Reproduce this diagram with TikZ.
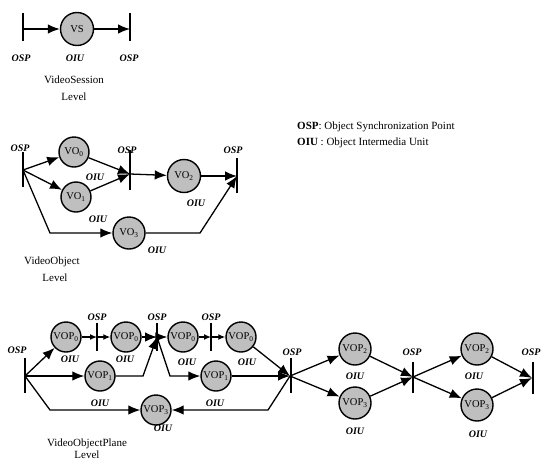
\documentclass[tikz,border=0pt]{standalone}
\usepackage{fontspec}
\setmainfont{Liberation Serif}
\usetikzlibrary{arrows.meta}
\tikzset{
  unit/.style={circle, draw, line width=1.4pt, fill=black!25, minimum size=30pt, inner sep=0pt, font=\fontsize{10.5}{10.5}\selectfont},
  lbl/.style={font=\bfseries\itshape\fontsize{10}{11}\selectfont, inner sep=0pt},
  txt/.style={font=\fontsize{11}{12}\selectfont, inner sep=0pt},
  arr/.style={line width=1.3pt, -{Latex[length=12pt,width=9.5pt]}},
  sarr/.style={line width=1.3pt, -{Latex[length=7pt,width=6pt]}},
  osp/.style={line width=1.1pt}
}
\begin{document}
\begin{tikzpicture}[x=1pt,y=-1pt]
\useasboundingbox (0,0) rectangle (545,461);
\clip (0,0) rectangle (545,461);
\fill[white] (0,0) rectangle (545,461);

% ---------- Level 1 ----------
\coordinate (s1) at (23,29);
\coordinate (s1t) at (23,13); \coordinate (s1b) at (23,41);
\coordinate (s2) at (130,29);
\coordinate (s2t) at (130,13); \coordinate (s2b) at (130,41);
\draw[osp] (s1t) -- (s1b);
\draw[osp] (s2t) -- (s2b);
\node[unit, minimum size=33pt] (vs) at (77,29) {VS};
\draw[arr] (s1) -- (vs);
\draw[arr] (vs) -- (s2);
\node[lbl] (l1a) at (21,58) {OSP};
\node[lbl] (l1b) at (75,58) {OIU};
\node[lbl] (l1c) at (129,58) {OSP};
\node[txt] (t1a) at (74,80) {VideoSession};
\node[txt] (t1b) at (74,97) {Level};

% ---------- Level 2 ----------
\coordinate (A) at (23,170);
\coordinate (At) at (23,152); \coordinate (Ab) at (23,187);
\coordinate (B) at (130,174);
\coordinate (Bt) at (130,150); \coordinate (Bb) at (130,190);
\coordinate (C) at (237,176);
\coordinate (Ct) at (237,158); \coordinate (Cb) at (237,193);
\draw[osp] (At) -- (Ab);
\draw[osp] (Bt) -- (Bb);
\draw[osp] (Ct) -- (Cb);
\node[unit] (vo0) at (74,152) {VO\textsubscript{0}};
\node[unit] (vo1) at (76,197) {VO\textsubscript{1}};
\node[unit, minimum size=33pt] (vo2) at (184,176) {VO\textsubscript{2}};
\node[unit, minimum size=32pt] (vo3) at (129,233) {VO\textsubscript{3}};
\coordinate (A1) at (50,233);
\coordinate (C1) at (200,233);
\draw[arr] (A) -- (vo0);
\draw[arr] (A) -- (vo1);
\draw[arr] (vo0) -- (B);
\draw[arr] (vo1) -- (B);
\draw[arr] (B) -- (vo2);
\draw[arr] (vo2) -- (C);
\draw[arr] (A) -- (A1) -- (vo3);
\draw[arr] (vo3) -- (C1) -- (C);
\node[lbl] (l2a) at (20,148) {OSP};
\node[lbl] (l2b) at (127,150) {OSP};
\node[lbl] (l2c) at (233,150) {OSP};
\node[lbl] (l2d) at (95,177) {OIU};
\node[lbl] (l2e) at (98,219) {OIU};
\node[lbl] (l2f) at (196,203) {OIU};
\node[lbl] (l2g) at (157,250) {OIU};
\node[txt] (t2a) at (52,262) {VideoObject};
\node[txt] (t2b) at (55,278) {Level};

% ---------- Legend ----------
\node[txt, anchor=west] (lg1) at (297,127) {\textbf{OSP}: Object Synchronization Point};
\node[txt, anchor=west] (lg2) at (297,143) {\textbf{OIU} : Object Intermedia Unit};

% ---------- Level 3 ----------
\coordinate (P) at (25,376);
\coordinate (Pt) at (25,358); \coordinate (Pb) at (25,393);
\coordinate (Q) at (97,337);
\coordinate (Qt) at (97,323); \coordinate (Qb) at (97,351);
\coordinate (D) at (157,337);
\coordinate (Dt) at (157,323); \coordinate (Db) at (157,351);
\coordinate (E) at (211,337);
\coordinate (Et) at (211,323); \coordinate (Eb) at (211,351);
\coordinate (F) at (290,376);
\coordinate (Ft) at (291,358); \coordinate (Fb) at (291,393);
\coordinate (G) at (413,377);
\coordinate (Gt) at (413,362); \coordinate (Gb) at (413,393);
\coordinate (H) at (532,378);
\coordinate (Ht) at (533,362); \coordinate (Hb) at (533,394);
\foreach \a/\b in {Pt/Pb,Qt/Qb,Dt/Db,Et/Eb,Ft/Fb,Gt/Gb,Ht/Hb}
  \draw[osp] (\a) -- (\b);

\node[unit] (p0a) at (66,337) {VOP\textsubscript{0}};
\node[unit] (p0b) at (126,337) {VOP\textsubscript{0}};
\node[unit] (p0c) at (183,337) {VOP\textsubscript{0}};
\node[unit] (p0d) at (241,337) {VOP\textsubscript{0}};
\node[unit] (p1a) at (100,376) {VOP\textsubscript{1}};
\node[unit] (p1b) at (216,376) {VOP\textsubscript{1}};
\node[unit] (p3) at (156,410) {VOP\textsubscript{3}};
\node[unit, minimum size=32pt] (p2a) at (355,349) {VOP\textsubscript{2}};
\node[unit, minimum size=32pt] (p3a) at (355,403) {VOP\textsubscript{3}};
\node[unit, minimum size=32pt] (p2b) at (477,349) {VOP\textsubscript{2}};
\node[unit, minimum size=32pt] (p3b) at (477,405) {VOP\textsubscript{3}};

\coordinate (P1) at (50,410);
\coordinate (M1) at (143,376);
\coordinate (M2) at (170,376);
\coordinate (F1) at (268,410);

\draw[arr] (P) -- (p0a);
\draw[arr] (P) -- (p1a);
\draw[arr] (P) -- (P1) -- (p3);
\draw[sarr] (p0a) -- (Q);
\draw[sarr] (Q) -- (p0b);
\draw[arr] (p0b) -- (D);
\draw[arr] (p1a) -- (M1) -- (D);
\draw[arr] (D) -- (p0c);
\draw[arr] (D) -- (M2) -- (p1b);
\draw[sarr] (p0c) -- (E);
\draw[sarr] (E) -- (p0d);
\draw[arr] (p0d) -- (F);
\draw[arr] (p1b) -- (F);
\draw[arr] (F) -- (F1) -- (p3);
\draw[arr] (F) -- (p2a);
\draw[arr] (F) -- (p3a);
\draw[arr] (p2a) -- (G);
\draw[arr] (p3a) -- (G);
\draw[arr] (G) -- (p2b);
\draw[arr] (G) -- (p3b);
\draw[arr] (p2b) -- (H);
\draw[arr] (p3b) -- (H);

\node[lbl] (l3a) at (17,350) {OSP};
\node[lbl] (l3b) at (97,317) {OSP};
\node[lbl] (l3c) at (157,317) {OSP};
\node[lbl] (l3d) at (211,317) {OSP};
\node[lbl] (l3e) at (292,352) {OSP};
\node[lbl] (l3f) at (412,352) {OSP};
\node[lbl] (l3g) at (531,352) {OSP};
\node[lbl] (o1) at (70,359) {OIU};
\node[lbl] (o2) at (125,359) {OIU};
\node[lbl] (o3) at (187,362) {OIU};
\node[lbl] (o4) at (247,362) {OIU};
\node[lbl] (o5) at (100,403) {OIU};
\node[lbl] (o6) at (215,403) {OIU};
\node[lbl] (o7) at (163,428) {OIU};
\node[lbl] (o8) at (355,376) {OIU};
\node[lbl] (o9) at (355,431) {OIU};
\node[lbl] (o10) at (474,376) {OIU};
\node[lbl] (o11) at (478,434) {OIU};
\node[txt] (t3a) at (87,444) {VideoObjectPlane};
\node[txt] (t3b) at (87,455) {Level};
\end{tikzpicture}
\end{document}
